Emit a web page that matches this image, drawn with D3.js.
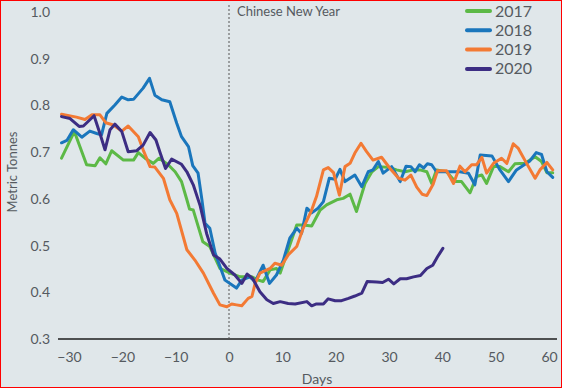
<!DOCTYPE html>
<html><head><meta charset="utf-8">
<script src="https://cdn.jsdelivr.net/npm/d3@7"></script>
<style>
html,body{margin:0;padding:0;background:#e0e7ea;}
svg{display:block;}
text{font-family:Lato,"Open Sans",sans-serif;fill:#555a60;}
</style></head>
<body><svg id="c" width="562" height="388"></svg>
<script>
const years = ["2017","2018","2019","2020"];
const colors = ["#5cb946","#1a76bc","#f37a34","#3c2d83"];
const xTicks = [-30,-20,-10,0,10,20,30,40,50,60];
const yTicks = [0.3,0.4,0.5,0.6,0.7,0.8,0.9,1.0];
const eventDay = 0;
const eventLabel = "Chinese New Year";
const xTitle = "Days";
const yTitle = "Metric Tonnes";

const s2017 = [[-31.4,.687],[-29,.744],[-26.7,.673],[-25.1,.671],[-24.2,.688],[-23.1,.675],[-22,.703],[-19.8,.683],[-17.9,.683],[-17,.699],[-15.75,.687],[-14.2,.676],[-13.1,.687],[-11.4,.673],[-10.1,.658],[-8.9,.637],[-7.9,.598],[-7.4,.578],[-6.7,.576],[-4.9,.508],[-3.6,.498],[-1.7,.451],[0.2,.441],[2.1,.433],[4.3,.433],[5.5,.426],[6.4,.423],[7.7,.448],[8.9,.451],[9.6,.441],[11,.488],[12.7,.544],[13.9,.544],[15.5,.542],[17.1,.576],[18.3,.587],[20.2,.598],[21.4,.601],[22.7,.61],[23.9,.573],[25.5,.633],[26.8,.658],[28,.669],[30.2,.667],[31.4,.662],[33,.658],[34.6,.662],[35.8,.662],[37.1,.658],[38,.633],[38.9,.662],[40.8,.658],[42.4,.637],[43.6,.637],[45.2,.613],[46.4,.648],[47.4,.651],[48.3,.633],[49.6,.669],[50.8,.669],[52.4,.658],[53.6,.675],[55.5,.676],[57.4,.69],[58.6,.68],[59.6,.656],[60.7,.656]];
const s2018 = [[-31.4,.72],[-30.4,.725],[-29.2,.748],[-27.6,.732],[-26.1,.745],[-24.8,.74],[-23.9,.737],[-22.9,.783],[-21.4,.801],[-20.1,.818],[-18.9,.812],[-17.9,.813],[-16.1,.837],[-14.9,.858],[-13.9,.822],[-12.6,.812],[-11.1,.808],[-9.8,.762],[-8.9,.733],[-7.6,.712],[-6.8,.671],[-5.8,.655],[-5.1,.6],[-4.5,.548],[-3.6,.537],[-2.6,.484],[-0.75,.426],[1.4,.409],[2.4,.426],[3.9,.433],[4.9,.423],[6.4,.458],[7.6,.419],[8.9,.437],[10.2,.469],[11.4,.516],[12.7,.537],[13.6,.526],[14.6,.58],[15.5,.57],[16.7,.58],[17.7,.594],[18.8,.644],[19.9,.642],[20.8,.663],[21.75,.637],[23.6,.651],[24.9,.626],[26.1,.658],[27,.662],[28,.68],[28.9,.655],[30.5,.669],[32.1,.637],[33.2,.67],[34.1,.669],[34.9,.658],[35.7,.673],[36.5,.666],[37.2,.675],[38,.673],[38.9,.658],[41.4,.658],[43.3,.658],[44.9,.655],[46.1,.63],[47.1,.694],[49.3,.692],[50.8,.662],[52.4,.637],[53.9,.662],[56.4,.681],[57.6,.699],[58.6,.695],[59.6,.658],[60.7,.646]];
const s2019 = [[-31.4,.781],[-28.6,.775],[-27,.77],[-25.7,.78],[-24.2,.78],[-23.1,.763],[-21.7,.758],[-20.1,.745],[-18.9,.756],[-17,.733],[-16.1,.705],[-14.8,.669],[-13.9,.668],[-12.3,.644],[-11.1,.598],[-9.8,.569],[-7.9,.491],[-6.4,.469],[-4.8,.441],[-2.9,.398],[-1.7,.373],[-0.4,.369],[0.5,.375],[1.4,.373],[2.4,.371],[3.6,.387],[4.3,.391],[4.9,.419],[5.8,.441],[7.7,.451],[8.6,.462],[9.9,.458],[11.1,.48],[12.7,.498],[13.9,.537],[15.5,.576],[16.4,.605],[17.7,.662],[18.6,.667],[19.6,.656],[20.7,.608],[21.75,.669],[22.7,.676],[23.6,.698],[24.75,.719],[25.8,.701],[27,.683],[28.6,.689],[30.2,.665],[31.8,.644],[33,.64],[34.1,.651],[35.2,.625],[36.2,.61],[37.1,.607],[38.3,.632],[39.1,.66],[40.8,.66],[42.1,.633],[43.3,.67],[44.25,.658],[45.5,.673],[46.4,.673],[47.4,.689],[48.3,.655],[49.6,.676],[51.1,.687],[52.1,.676],[53.3,.718],[54.25,.708],[55.8,.676],[57.4,.644],[58.3,.662],[59.6,.678],[60.7,.662]];
const s2020 = [[-31.4,.776],[-29.8,.772],[-28.1,.755],[-27.3,.756],[-25.3,.778],[-24.2,.74],[-23.25,.705],[-22.3,.748],[-21.4,.76],[-20.1,.744],[-18.9,.701],[-17.3,.703],[-16.1,.715],[-14.8,.742],[-13.7,.726],[-12.9,.698],[-11.9,.665],[-10.75,.685],[-8.9,.674],[-7.9,.658],[-6.7,.63],[-5.4,.585],[-4.2,.526],[-2.9,.48],[-1.7,.471],[-0.4,.451],[1.1,.437],[2.4,.419],[3.4,.439],[4.4,.43],[5.8,.401],[7.1,.384],[8.3,.376],[9.6,.38],[11.1,.376],[12.4,.375],[14.6,.38],[15.5,.371],[16.4,.375],[17.7,.375],[18.6,.386],[19.9,.382],[21.1,.382],[22.4,.387],[23.6,.392],[24.9,.398],[25.9,.423],[27.7,.422],[28.8,.421],[29.9,.428],[30.9,.418],[32.1,.429],[33.3,.429],[34.6,.433],[35.9,.436],[37.1,.451],[38.2,.458],[39.1,.476],[40.1,.494]];
const seriesData = [s2017, s2018, s2019, s2020];

const svg = d3.select("#c");
const W = 562, H = 388;
svg.append("rect").attr("x",0).attr("y",0).attr("width",W).attr("height",H).attr("fill","#e0e7ea");

const x = d3.scaleLinear().domain([-30,60]).range([69,549]);
const y = d3.scaleLinear().domain([0.3,1.0]).range([339,12]);

// x axis
const xAxis = svg.append("g").attr("transform","translate(0,339)")
  .call(d3.axisBottom(x).tickValues(xTicks).tickSize(0).tickPadding(13).tickFormat(d3.format("d")));
xAxis.select(".domain").remove();
xAxis.selectAll("text").attr("font-size",14).style("font-family","Lato, 'Open Sans', sans-serif").attr("fill","#555a60");
svg.append("line").attr("x1",58).attr("x2",557).attr("y1",339).attr("y2",339)
  .attr("stroke","#1e1e1e").attr("stroke-width",1.5);

// y axis
const yAxis = svg.append("g").attr("transform","translate(50,0)")
  .call(d3.axisLeft(y).tickValues(yTicks).tickSize(0).tickPadding(0).tickFormat(d3.format(".1f")));
yAxis.select(".domain").remove();
yAxis.selectAll("text").attr("font-size",14).style("font-family","Lato, 'Open Sans', sans-serif").attr("fill","#555a60");

// event line
svg.append("line").attr("x1",x(eventDay)).attr("x2",x(eventDay)).attr("y1",5).attr("y2",339)
  .attr("stroke","#555").attr("stroke-width",1).attr("stroke-dasharray","2,2");
svg.append("text").attr("x",x(eventDay)+8).attr("y",16).attr("font-size",13).text(eventLabel);

// titles
svg.append("text").attr("x",317).attr("y",384).attr("text-anchor","middle").attr("font-size",14).text(xTitle);
svg.append("text").attr("transform","translate(17,172) rotate(-90)").attr("text-anchor","middle").attr("font-size",13).text(yTitle);

// lines
const line = d3.line().x(d=>x(d[0])).y(d=>y(d[1]));
seriesData.forEach((s,i)=>{
  svg.append("path").datum(s).attr("d",line).attr("fill","none")
    .attr("stroke",colors[i]).attr("stroke-width",3).attr("stroke-linejoin","round").attr("stroke-linecap","round");
});

// legend
years.forEach((yr,i)=>{
  const cy = 11 + i*19.3;
  svg.append("line").attr("x1",467).attr("x2",490).attr("y1",cy).attr("y2",cy)
    .attr("stroke",colors[i]).attr("stroke-width",4).attr("stroke-linecap","round");
  svg.append("text").attr("x",495).attr("y",cy+5.5).attr("font-size",16).text(yr);
});

// border
svg.append("rect").attr("x",0.5).attr("y",0.5).attr("width",W-1).attr("height",H-1)
  .attr("fill","none").attr("stroke","#ff0000").attr("stroke-width",1);
</script></body></html>
